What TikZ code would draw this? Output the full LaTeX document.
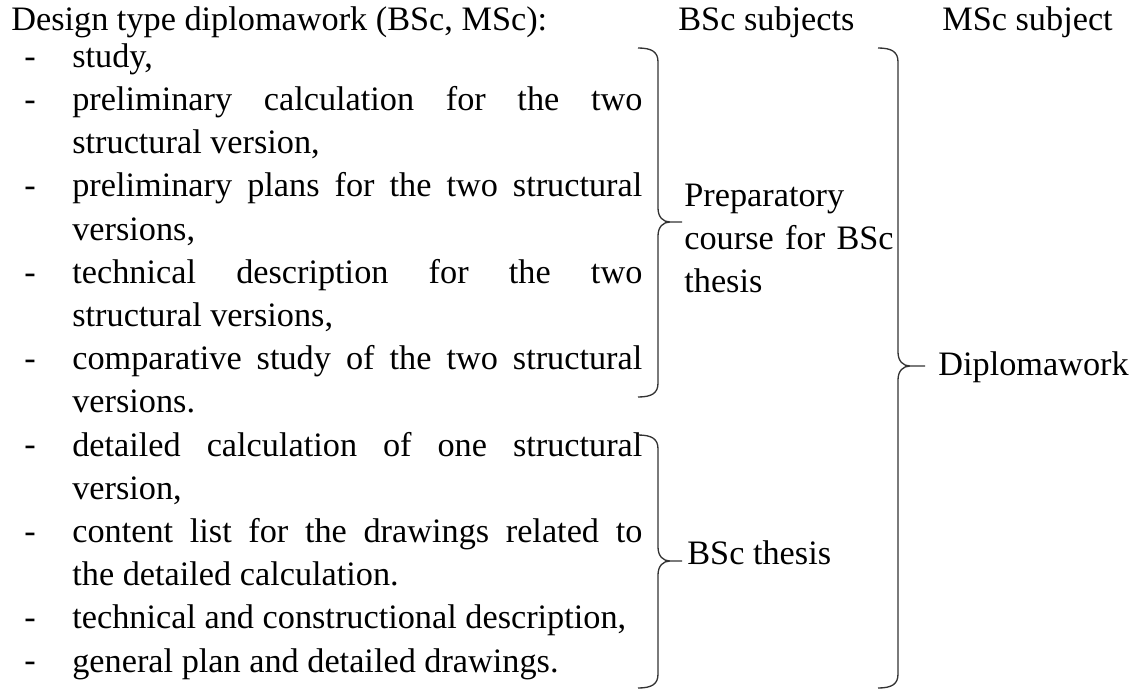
\documentclass[tikz,border=0pt]{standalone}
\usepackage{fontspec}
\setmainfont{Liberation Serif}
\usepackage{tikz}
\usetikzlibrary{positioning}

\hyphenpenalty=10000
\exhyphenpenalty=10000
\newcommand{\bodyfont}{\fontsize{19.5}{24.49}\selectfont}

% brace: x of the stem, top, tip, bottom, end of the tick
\newcommand{\wbrace}[5]{%
  \draw[brace-a] ({#1-20},#2) .. controls ({#1-6},#2) and (#1,{#2+4}) .. (#1,{#2+14})
    -- (#1,{#3-14}) .. controls (#1,{#3-5}) and ({#1+5},#3) .. ({#1+12},#3) -- (#5,#3)
    ({#1+12},#3) .. controls ({#1+5},#3) and (#1,{#3+5}) .. (#1,{#3+14})
    -- (#1,{#4-14}) .. controls (#1,{#4-4}) and ({#1-6},#4) .. ({#1-20},#4);}

\begin{document}
\begin{tikzpicture}
[
x=0.2mm, y=-0.2mm,
text-a/.style={anchor=base west, inner sep=0pt, font=\bodyfont},
item-a/.style={anchor=north west, inner sep=0pt, text width=114mm, align=justify, font=\bodyfont},
label-a/.style={anchor=north west, inner sep=0pt, text width=50mm, align=left, font=\bodyfont},
brace-a/.style={black!80, line width=0.75pt}
]
\useasboundingbox (0,0) rectangle (1143,692);

% headings
\node (title)    [text-a] at (11,30)  {Design type diplomawork (BSc, MSc):};
\node (head-bsc) [text-a] at (678,30) {BSc subjects};
\node (head-msc) [text-a] at (942,30) {MSc subject};

% list
\node (item-1) [item-a] at (72,36.9)  {\strut study,};
\node (item-2) [item-a] at (72,80.1)  {\strut preliminary calculation for the two\linebreak structural version,};
\node (item-3) [item-a] at (72,166.5) {\strut preliminary plans for the two structural\linebreak versions,};
\node (item-4) [item-a] at (72,252.9) {\strut technical description for the two\linebreak structural versions,};
\node (item-5) [item-a] at (72,339.3) {\strut comparative study of the two structural\linebreak versions.};
\node (item-6) [item-a] at (72,425.7) {\strut detailed calculation of one structural\linebreak version,};
\node (item-7) [item-a] at (72,512.1) {\strut content list for the drawings related to\linebreak the detailed calculation.};
\node (item-8) [item-a] at (72,598.5) {\strut technical and constructional description,};
\node (item-9) [item-a] at (72,641.7) {\strut general plan and detailed drawings.};

\foreach \i/\y in {1/67, 2/110.2, 3/196.6, 4/283, 5/369.4, 6/455.8, 7/542.2, 8/628.6, 9/671.8}
  \node (dash-\i) [text-a] at (24,\y) {-};

% braces
\wbrace{658}{48}{222}{397}{682}
\wbrace{658}{435}{561}{688}{682}
\wbrace{898}{48}{366}{688}{925}

\node (lab-prep)  [label-a] at (684,176) {\strut Preparatory\\course for BSc\\thesis};
\node (lab-bsc)   [text-a]  at (687,564) {BSc thesis};
\node (lab-diplo) [text-a]  at (938,375) {Diplomawork};
\end{tikzpicture}
\end{document}
